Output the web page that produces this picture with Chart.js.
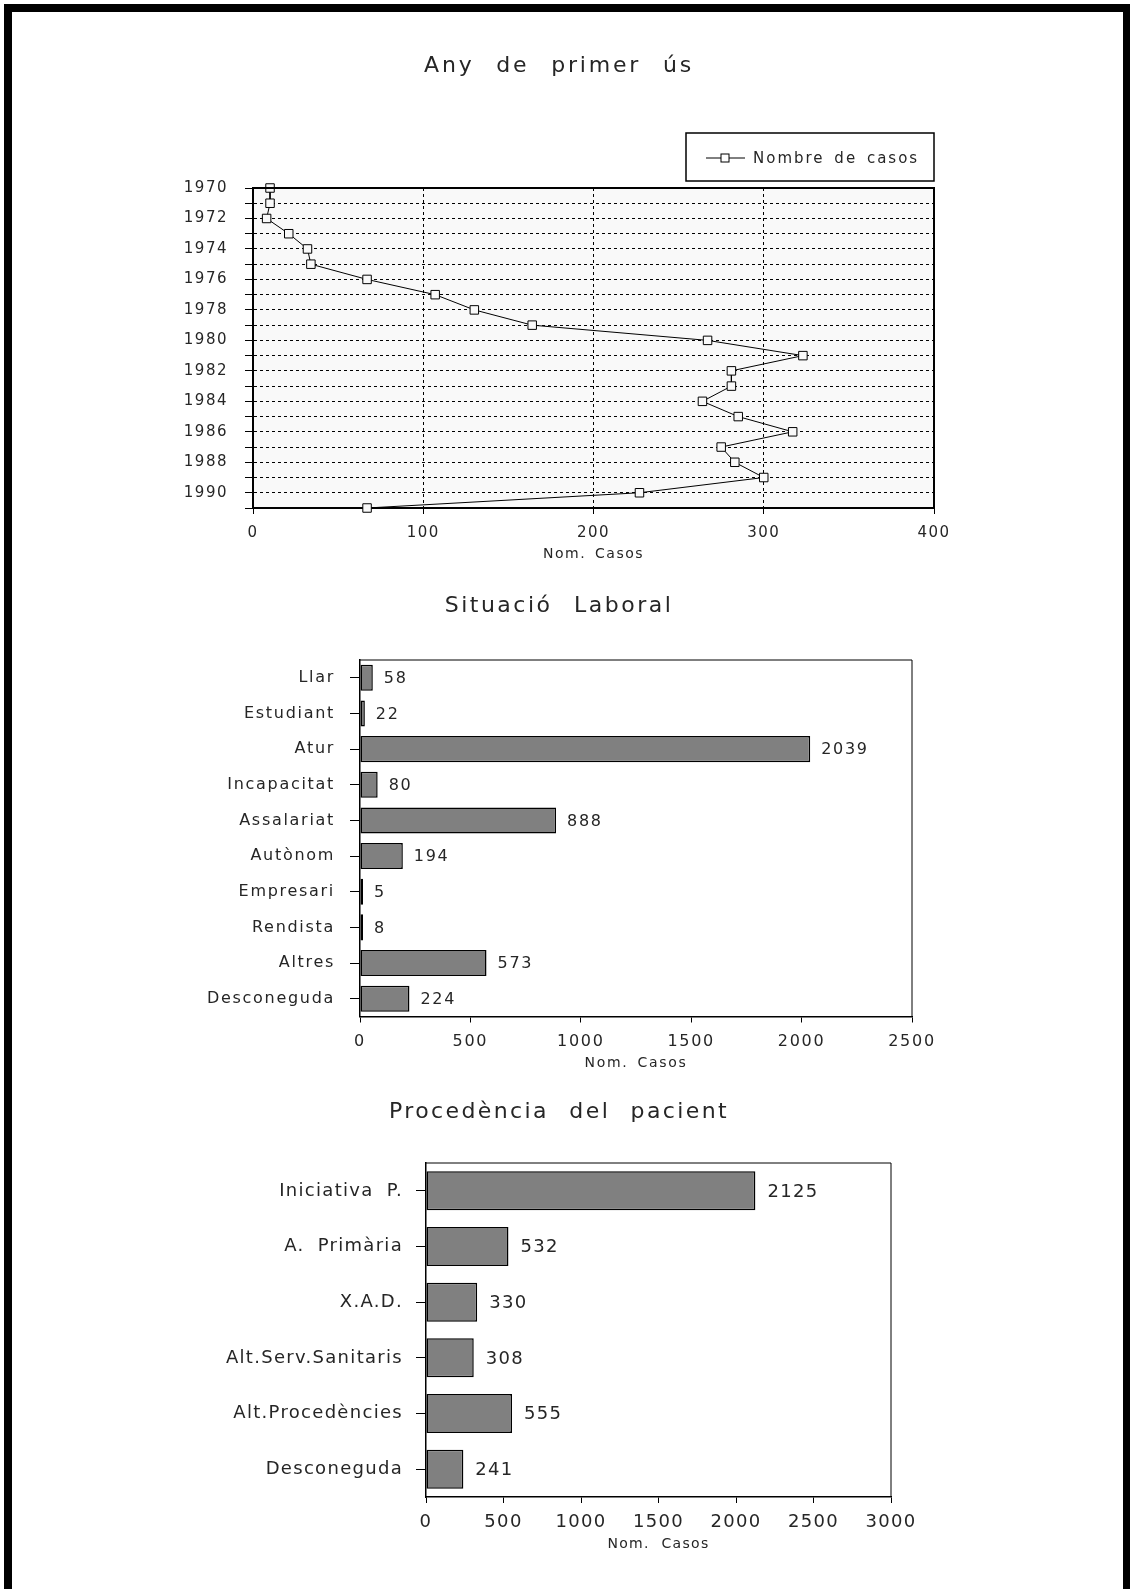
<!DOCTYPE html>
<html>
<head>
<meta charset="utf-8">
<script src="https://cdn.jsdelivr.net/npm/chart.js@4.4.0/dist/chart.umd.min.js"></script>
<style>
  html, body { margin: 0; padding: 0; background: #fff; }
  #page { position: relative; width: 1130px; height: 1589px; overflow: hidden; }
  #frame { position: absolute; left: 4px; top: 4px; width: 1111px; height: 1700px;
           border: 8px solid #000; border-right-width: 7px; border-bottom: none; }
  canvas { position: absolute; left: 0; }
</style>
</head>
<body>
<div id="page">
  <div id="frame"></div>
  <canvas id="anyChart" width="1118" height="575" style="top:0"></canvas>
  <canvas id="laboralChart" width="1118" height="500" style="top:575px"></canvas>
  <canvas id="procChart" width="1118" height="514" style="top:1075px"></canvas>
</div>
<script>
// any de primer us
const anys = [1970, 1971, 1972, 1973, 1974, 1975, 1976, 1977, 1978, 1979, 1980,
              1981, 1982, 1983, 1984, 1985, 1986, 1987, 1988, 1989, 1990, 1991];
const casosAny = [10, 10, 8, 21, 32, 34, 67, 107, 130, 164, 267,
                  323, 281, 281, 264, 285, 317, 275, 283, 300, 227, 67];

// situacio laboral
const situacions = ["Llar", "Estudiant", "Atur", "Incapacitat", "Assalariat",
                    "Autònom", "Empresari", "Rendista", "Altres", "Desconeguda"];
const casosSituacio = [58, 22, 2039, 80, 888, 194, 5, 8, 573, 224];

// procedencia
const procedencies = ["Iniciativa P.", "A. Primària", "X.A.D.", "Alt.Serv.Sanitaris",
                      "Alt.Procedències", "Desconeguda"];
const casosProcedencia = [2125, 532, 330, 308, 555, 241];

const FONT = "'DejaVu Sans', sans-serif";
const TXT = "#262626";
const W = "normal";

Chart.defaults.font.family = FONT;
Chart.defaults.font.weight = W;
Chart.defaults.color = TXT;

const setSpacing = (ctx, opts) => {
  ctx.letterSpacing = (opts.spacing || 0) + "px";
  ctx.wordSpacing = (opts.words || 0) + "px";
};

// spacing + plot background + box around the plot
const plotFrame = {
  id: "plotFrame",
  beforeUpdate(chart, args, opts) {
    setSpacing(chart.ctx, opts);
  },
  beforeDraw(chart, args, opts) {
    const { ctx, chartArea: a } = chart;
    setSpacing(ctx, opts);
    if (opts.fill) {
      ctx.save();
      ctx.fillStyle = opts.fill;
      ctx.fillRect(a.left, a.top, a.right - a.left, a.bottom - a.top);
      ctx.restore();
    }
  },
  afterDraw(chart, args, opts) {
    const { ctx, chartArea: a } = chart;
    ctx.save();
    ctx.strokeStyle = "#000";
    ctx.lineWidth = opts.width || 1;
    ctx.beginPath();
    ctx.moveTo(a.left, a.top);
    ctx.lineTo(a.right, a.top);
    ctx.lineTo(a.right, a.bottom);
    ctx.stroke();
    ctx.restore();
  }
};

const pageTitle = {
  id: "pageTitle",
  afterDraw(chart, args, opts) {
    if (!opts.text) return;
    const { ctx } = chart;
    ctx.save();
    ctx.letterSpacing = opts.spacing + "px";
    ctx.wordSpacing = opts.words + "px";
    ctx.font = `${W} 22px ${FONT}`;
    ctx.fillStyle = TXT;
    ctx.textAlign = "center";
    ctx.textBaseline = "alphabetic";
    ctx.fillText(opts.text, chart.width / 2, opts.y);
    ctx.restore();
  }
};

const valueLabels = {
  id: "valueLabels",
  afterDatasetsDraw(chart, args, opts) {
    if (!opts.size) return;
    const { ctx } = chart;
    const data = chart.data.datasets[0].data;
    ctx.save();
    ctx.font = `${W} ${opts.size}px ${FONT}`;
    ctx.fillStyle = TXT;
    ctx.textAlign = "left";
    ctx.textBaseline = "middle";
    chart.getDatasetMeta(0).data.forEach((bar, i) => {
      ctx.fillText(String(data[i]), bar.x + opts.gap, bar.y + 1);
    });
    ctx.restore();
  }
};

const legendBox = {
  id: "legendBox",
  afterDraw(chart, args, opts) {
    if (!opts.show) return;
    const { ctx, chartArea: a } = chart;
    const w = 248, h = 48;
    const x = a.right - w, y = a.top - 7 - h;
    const my = y + h / 2 + 1;
    ctx.save();
    ctx.strokeStyle = "#000";
    ctx.lineWidth = 1.5;
    ctx.strokeRect(x, y, w, h);
    ctx.lineWidth = 1;
    ctx.beginPath();
    ctx.moveTo(x + 20, my);
    ctx.lineTo(x + 59, my);
    ctx.stroke();
    ctx.fillStyle = "#fff";
    ctx.fillRect(x + 35, my - 4, 8, 8);
    ctx.strokeRect(x + 35, my - 4, 8, 8);
    ctx.fillStyle = TXT;
    ctx.font = `${W} 15px ${FONT}`;
    ctx.letterSpacing = "2px";
    ctx.wordSpacing = "3px";
    ctx.textBaseline = "middle";
    ctx.fillText(chart.data.datasets[0].label, x + 67, my + 1);
    ctx.restore();
  }
};

Chart.register(plotFrame, pageTitle, valueLabels, legendBox);

const dummyRight = (width) => ({
  type: "linear",
  position: "right",
  display: true,
  grid: { display: false },
  ticks: { display: false },
  border: { display: false },
  afterFit: (s) => { s.width = width; }
});

const axisTitle = (bottom) => ({
  display: true, text: "Nom. Casos",
  font: { size: 14 },
  padding: { top: 0, bottom: bottom }
});

// chart 1
new Chart(document.getElementById("anyChart"), {
  type: "scatter",
  data: {
    datasets: [{
      label: "Nombre de casos",
      data: anys.map((a, i) => ({ x: casosAny[i], y: a })),
      showLine: true,
      clip: false,
      borderColor: "#000",
      borderWidth: 1,
      pointStyle: "rect",
      pointRadius: 6,
      pointBackgroundColor: "#f9f9f9",
      pointBorderColor: "#000",
      pointBorderWidth: 1
    }]
  },
  options: {
    responsive: false,
    animation: false,
    events: [],
    layout: { padding: { top: 188 } },
    plugins: {
      legend: { display: false },
      tooltip: { enabled: false },
      title: { display: false },
      pageTitle: { text: "Any de primer ús", y: 72, spacing: 2.8, words: 12 },
      plotFrame: { fill: "#f9f9f9", width: 2, spacing: 1.5, words: 3 },
      legendBox: { show: true }
    },
    scales: {
      x: {
        type: "linear", position: "bottom", min: 0, max: 400,
        ticks: { stepSize: 100, padding: 10, font: { size: 15 }, callback: (v) => String(v) },
        grid: { color: "#000", lineWidth: 1, tickLength: 6 },
        border: { color: "#000", width: 2, dash: [3, 3] },
        title: axisTitle(12),
        afterFit: (s) => { s.height = 67; }
      },
      y: {
        type: "linear", position: "left", reverse: true, min: 1970, max: 1991,
        ticks: { stepSize: 1, autoSkip: false, padding: 17, font: { size: 15 },
                 callback: (v) => (v % 2 === 0 ? String(v) : "") },
        grid: { color: "#000", lineWidth: 1, tickLength: 8 },
        border: { color: "#000", width: 2, dash: [3, 3] },
        afterFit: (s) => { s.width = 253; }
      },
      yR: dummyRight(184)
    }
  }
});

// chart 2
new Chart(document.getElementById("laboralChart"), {
  type: "bar",
  data: {
    labels: situacions,
    datasets: [{
      data: casosSituacio,
      backgroundColor: "#808080",
      borderColor: "#000",
      borderWidth: 1.5,
      borderSkipped: false,
      minBarLength: 3,
      barPercentage: 0.73,
      categoryPercentage: 1
    }]
  },
  options: {
    indexAxis: "y",
    responsive: false,
    animation: false,
    events: [],
    layout: { padding: { top: 85 } },
    plugins: {
      legend: { display: false },
      tooltip: { enabled: false },
      title: { display: false },
      pageTitle: { text: "Situació Laboral", y: 36.5, spacing: 2.5, words: 12 },
      plotFrame: { width: 1, spacing: 1.7, words: 3 },
      valueLabels: { size: 16, gap: 11 }
    },
    scales: {
      x: {
        min: 0, max: 2500,
        ticks: { stepSize: 500, padding: 10, font: { size: 16 }, callback: (v) => String(v) },
        grid: { drawOnChartArea: false, tickLength: 6, color: "#000" },
        border: { color: "#000", width: 1.5 },
        title: axisTitle(3),
        afterFit: (s) => { s.height = 58.5; }
      },
      y: {
        ticks: { padding: 15, font: { size: 16 } },
        grid: { offset: false, drawOnChartArea: false, tickLength: 10, color: "#000" },
        border: { color: "#000", width: 1.5 },
        afterFit: (s) => { s.width = 360; }
      },
      yR: dummyRight(206)
    }
  }
});

// chart 3
new Chart(document.getElementById("procChart"), {
  type: "bar",
  data: {
    labels: procedencies,
    datasets: [{
      data: casosProcedencia,
      backgroundColor: "#808080",
      borderColor: "#000",
      borderWidth: 1.5,
      borderSkipped: false,
      barPercentage: 0.70,
      categoryPercentage: 1
    }]
  },
  options: {
    indexAxis: "y",
    responsive: false,
    animation: false,
    events: [],
    layout: { padding: { top: 88 } },
    plugins: {
      legend: { display: false },
      tooltip: { enabled: false },
      title: { display: false },
      pageTitle: { text: "Procedència del pacient", y: 43.3, spacing: 2.4, words: 11 },
      plotFrame: { width: 1, spacing: 1.3, words: 6 },
      valueLabels: { size: 18, gap: 12 }
    },
    scales: {
      x: {
        min: 0, max: 3000,
        ticks: { stepSize: 500, padding: 9, font: { size: 18 }, callback: (v) => String(v) },
        grid: { drawOnChartArea: false, tickLength: 6, color: "#000" },
        border: { color: "#000", width: 1.5 },
        title: axisTitle(36),
        afterFit: (s) => { s.height = 92; }
      },
      y: {
        ticks: { padding: 13, font: { size: 18 } },
        grid: { offset: false, drawOnChartArea: false, tickLength: 10, color: "#000" },
        border: { color: "#000", width: 1.5 },
        afterFit: (s) => { s.width = 426; }
      },
      yR: dummyRight(227)
    }
  }
});
</script>
</body>
</html>
